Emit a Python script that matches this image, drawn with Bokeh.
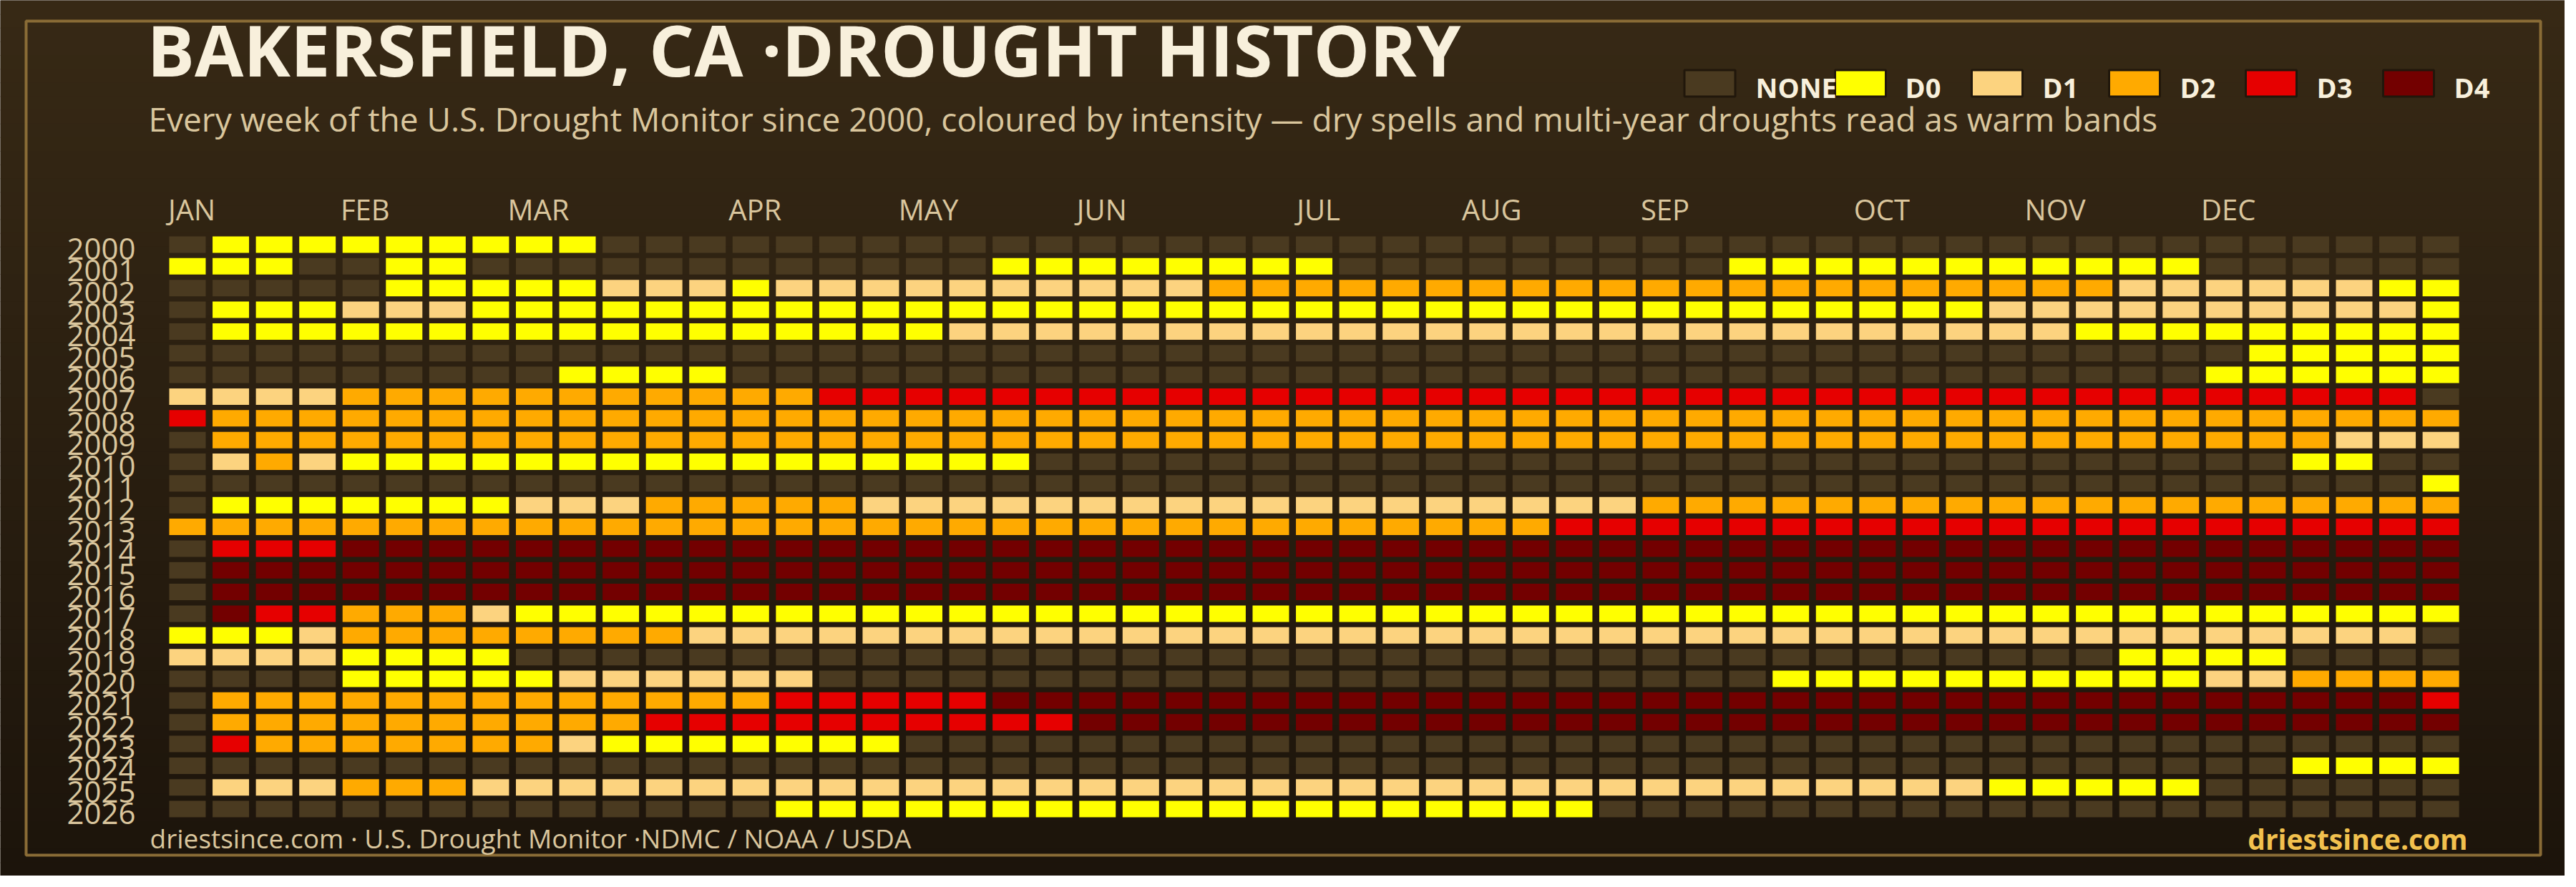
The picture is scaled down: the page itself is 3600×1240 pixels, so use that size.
from bokeh.plotting import figure
from bokeh.models import Range1d, ColumnDataSource
from bokeh.embed import file_html
from bokeh.resources import INLINE
from bokeh.core.properties import value

# ---------------- data ----------------
years = list(range(2000, 2027))
categories = ["NONE", "D0", "D1", "D2", "D3", "D4"]
category_colors = ["#4a3a20", "#ffff00", "#fcd37f", "#ffaa00", "#e60000", "#730000"]
month_labels = ["JAN", "FEB", "MAR", "APR", "MAY", "JUN", "JUL", "AUG", "SEP", "OCT", "NOV", "DEC"]
month_weeks = [0, 4, 8, 13, 17, 21, 26, 30, 34, 39, 43, 47]

# weekly USDM category per year, 53 weeks; '-' = none, '0'..'4' = D0..D4
weekly_codes = [
    "-000000000 ---------- ---------- ---------- ---------- ---",  # 2000
    "000--00--- ---------0 0000000--- ------0000 0000000--- ---",  # 2001
    "-----00000 1110111111 1111222222 2222222222 2222211111 100",  # 2002
    "-000111000 0000000000 0000000000 0000000000 0011111111 110",  # 2003
    "-000000000 0000000011 1111111111 1111111111 1111000000 000",  # 2004
    "---------- ---------- ---------- ---------- --------00 000",  # 2005
    "---------0 000------- ---------- ---------- -------000 000",  # 2006
    "1111222222 2222233333 3333333333 3333333333 3333333333 33-",  # 2007
    "3222222222 2222222222 2222222222 2222222222 2222222222 222",  # 2008
    "-222222222 2222222222 2222222222 2222222222 2222222222 111",  # 2009
    "-121000000 0000000000 ---------- ---------- ---------0 0--",  # 2010
    "---------- ---------- ---------- ---------- ---------- --0",  # 2011
    "-000000011 1222221111 1111111111 1111222222 2222222222 222",  # 2012
    "2222222222 2222222222 2222222222 2233333333 3333333333 333",  # 2013
    "-333444444 4444444444 4444444444 4444444444 4444444444 444",  # 2014
    "-444444444 4444444444 4444444444 4444444444 4444444444 444",  # 2015
    "-444444444 4444444444 4444444444 4444444444 4444444444 444",  # 2016
    "-433222100 0000000000 0000000000 0000000000 0000000000 000",  # 2017
    "0001222222 2211111111 1111111111 1111111111 1111111111 11-",  # 2018
    "11110000-- ---------- ---------- ---------- -----0000- ---",  # 2019
    "----000001 11111----- ---------- -------000 0000000112 222",  # 2020
    "-222222222 2222333334 4444444444 4444444444 4444444444 443",  # 2021
    "-222222222 2333333333 3444444444 4444444444 4444444444 444",  # 2022
    "-322222221 0000000--- ---------- ---------- ---------- ---",  # 2023
    "---------- ---------- ---------- ---------- ---------0 000",  # 2024
    "-111222111 1111111111 1111111111 1111111111 1100000--- ---",  # 2025
    "---------- ----000000 0000000000 000------- ---------- ---",  # 2026
]

title_text = "BAKERSFIELD, CA \u00b7DROUGHT HISTORY"
subtitle_text = ("Every week of the U.S. Drought Monitor since 2000, coloured by intensity \u2014 "
                 "dry spells and multi-year droughts read as warm bands")
footer_text = "driestsince.com  \u00b7 U.S. Drought Monitor \u00b7NDMC / NOAA / USDA"
brand_text = "driestsince.com"

# ---------------- layout helpers (page pixels -> data units) ----------------
W, H = 3584, 1224
PITCH_X, PITCH_Y = 60.56, 30.35
COL0_X, ROW0_Y = 269.5, 349.5


def X(px):
    return (px - COL0_X) / PITCH_X


def Y(py):
    return 2000 + (py - ROW0_Y) / PITCH_Y


FONT = value("Open Sans")
BEIGE = "#dac69d"
CREAM = "#f8f0dc"

p = figure(width=W, height=H,
           x_range=Range1d(X(8), X(8 + W)),
           y_range=Range1d(Y(8 + H), Y(8)),
           output_backend="svg", toolbar_location=None,
           x_axis_location=None, y_axis_location=None,
           min_border=0)
p.grid.visible = False
p.outline_line_color = None
p.background_fill_color = "#2a1f10"
p.border_fill_color = "#2a1f10"

# background gradient bands (decoration)
top_c = (55, 41, 21)
bot_c = (28, 20, 11)
nb = 64
band_h = H / nb
bl, br, bt, bb, bc = [], [], [], [], []
for i in range(nb):
    t = i / (nb - 1)
    c = tuple(int(round(top_c[k] + (bot_c[k] - top_c[k]) * t)) for k in range(3))
    bl.append(X(8)); br.append(X(8 + W))
    bt.append(Y(8 + i * band_h)); bb.append(Y(8 + (i + 1) * band_h + 1))
    bc.append("#%02x%02x%02x" % c)
p.quad(left=bl, right=br, top=bt, bottom=bb, fill_color=bc, line_color=None)

# frame border
p.quad(left=[X(44)], right=[X(3558)], top=[Y(37)], bottom=[Y(1203)],
       fill_color=None, line_color="#8a6c36", line_width=4)

# ---------------- cells ----------------
xs, ys, cols, cats = [], [], [], []
for yr, row in zip(years, weekly_codes):
    codes = row.replace(" ", "")
    assert len(codes) == 53, (yr, len(codes))
    for wk, ch in enumerate(codes):
        idx = 0 if ch == "-" else int(ch) + 1
        xs.append(wk)
        ys.append(yr)
        cols.append(category_colors[idx])
        cats.append(categories[idx])
src = ColumnDataSource(dict(week=xs, year=ys, color=cols, cat=cats))
p.rect(x="week", y="year", width=51 / PITCH_X, height=23 / PITCH_Y,
       fill_color="color", line_color=None, source=src)

# year labels
p.text(x=[X(197)] * len(years), y=[yr + 6 / PITCH_Y for yr in years],
       text=[str(yr) for yr in years], text_font=FONT, text_font_size="42px",
       text_color=BEIGE, text_align="right", text_baseline="alphabetic")

# month labels
p.text(x=[m + 6 / PITCH_X for m in month_weeks], y=[Y(300)] * len(month_weeks), text=month_labels,
       text_font=FONT, text_font_size="40px", text_color=BEIGE,
       text_align="center", text_baseline="alphabetic")

# title & subtitle
p.text(x=[X(213)], y=[Y(76)], text=[title_text], text_font=FONT,
       text_font_size="99px", text_font_style="bold", text_color=CREAM,
       text_baseline="alphabetic")
p.text(x=[X(215)], y=[Y(173)], text=[subtitle_text], text_font=FONT,
       text_font_size="46px", text_color=BEIGE, text_baseline="alphabetic")

# legend
sw_x = [2397, 2607.5, 2798.5, 2990.5, 3181.5, 3373.5]
lab_x = [2461, 2670, 2862, 3054, 3245, 3437]
p.rect(x=[X(v) for v in sw_x], y=[Y(124)] * 6, width=71 / PITCH_X, height=37 / PITCH_Y,
       fill_color=category_colors, line_color="#21170b", line_width=3)
p.text(x=[X(v) for v in lab_x], y=[Y(129)] * 6, text=categories, text_font=FONT,
       text_font_size="38px", text_font_style="bold", text_color=CREAM,
       text_baseline="alphabetic")

# footer
p.text(x=[X(217)], y=[Y(1179)], text=[footer_text], text_font=FONT,
       text_font_size="37px", text_color=BEIGE, text_baseline="alphabetic")
p.text(x=[X(3456)], y=[Y(1180)], text=[brand_text], text_font=FONT,
       text_font_size="39px", text_font_style="bold", text_color="#f2c14e",
       text_align="right", text_baseline="alphabetic")

html = file_html(p, INLINE, title="Bakersfield drought history")
html = html.replace("<body>", '<body style="background-color:#2b2011;">', 1)
open("out.html", "w").write(html)
